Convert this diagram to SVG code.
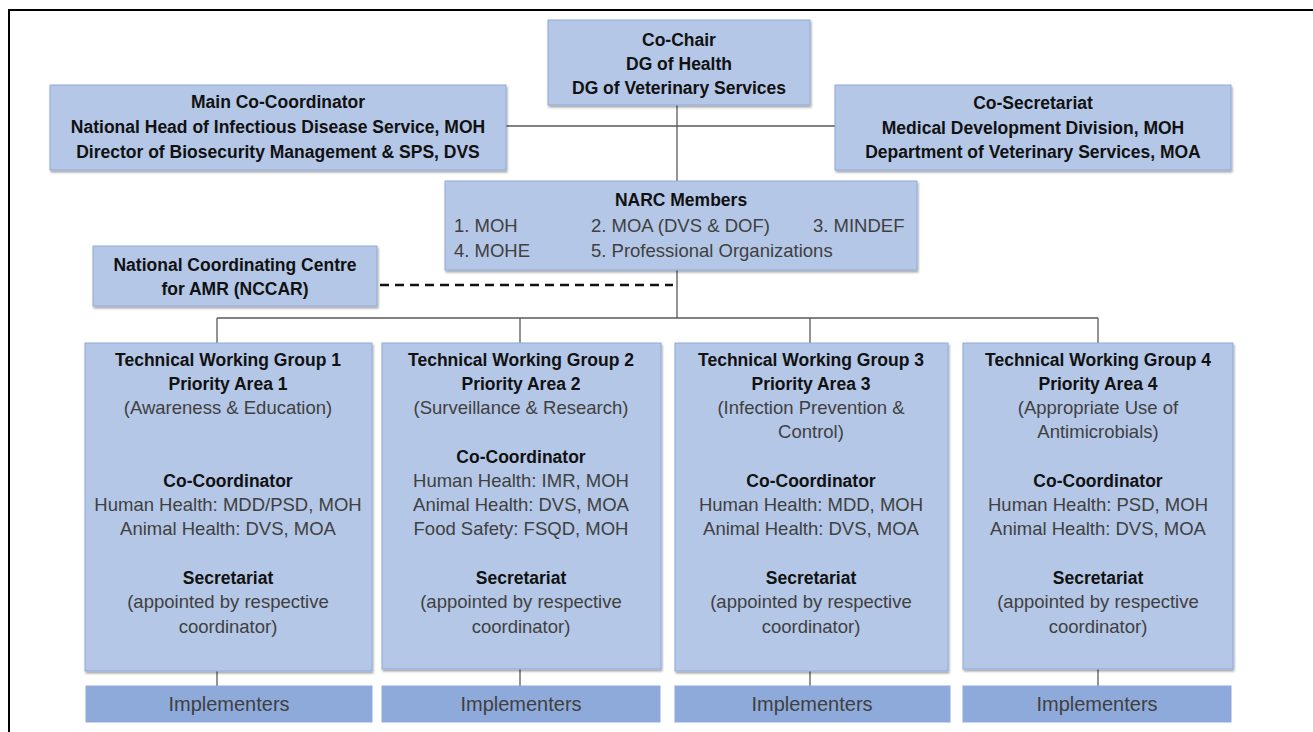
<svg xmlns="http://www.w3.org/2000/svg" width="1313" height="732" viewBox="0 0 1313 732">
<defs>
<filter id="sh" x="-5%" y="-5%" width="110%" height="115%">
<feDropShadow dx="1" dy="2" stdDeviation="1" flood-color="#000" flood-opacity="0.35"/>
</filter>
<style>
.box{fill:#b4c7e7;stroke:#8faadc;stroke-width:1;filter:url(#sh)}
.imp{fill:#8eaadb;stroke:#8faadc;stroke-width:1}
text{font-family:"Liberation Sans",Arial,sans-serif;font-size:18.5px;text-anchor:middle;fill:#404040}
.b{font-weight:bold;fill:#111;font-size:17.5px}
.l{text-anchor:start}
.it{font-size:20px}
.ln{stroke:#595959;stroke-width:1.3;fill:none}
.dash{stroke:#111;stroke-width:2.5;stroke-dasharray:9,6;fill:none}
</style>
</defs>
<rect width="1313" height="732" fill="#fff"/>
<rect x="9" y="10" width="1320" height="740" fill="none" stroke="#000" stroke-width="2"/>

<g id="connectors">
<line class="ln" x1="506" y1="126" x2="835" y2="126"/>
<line class="ln" x1="677" y1="105" x2="677" y2="181"/>
<line class="ln" x1="677" y1="270" x2="677" y2="318"/>
<line class="dash" x1="380" y1="285" x2="673" y2="285"/>
<line class="ln" x1="217" y1="318" x2="1098" y2="318"/>
<line class="ln" x1="217" y1="318" x2="217" y2="343"/>
<line class="ln" x1="520" y1="318" x2="520" y2="343"/>
<line class="ln" x1="810" y1="318" x2="810" y2="343"/>
<line class="ln" x1="1098" y1="318" x2="1098" y2="343"/>
<line class="ln" x1="217" y1="671" x2="217" y2="686"/>
<line class="ln" x1="520" y1="669" x2="520" y2="686"/>
<line class="ln" x1="810" y1="671" x2="810" y2="686"/>
<line class="ln" x1="1098" y1="669" x2="1098" y2="686"/>
</g>

<g id="cochair">
<rect class="box" x="548" y="20" width="262" height="85"/>
<text class="b" x="679" y="46">Co-Chair</text>
<text class="b" x="679" y="70">DG of Health</text>
<text class="b" x="679" y="94">DG of Veterinary Services</text>
</g>

<g id="main-cocoordinator">
<rect class="box" x="50" y="85" width="456" height="85"/>
<text class="b" x="278" y="108">Main Co-Coordinator</text>
<text class="b" x="278" y="133">National Head of Infectious Disease Service, MOH</text>
<text class="b" x="278" y="158">Director of Biosecurity Management &amp; SPS, DVS</text>
</g>

<g id="cosecretariat">
<rect class="box" x="835" y="85" width="396" height="85"/>
<text class="b" x="1033" y="109">Co-Secretariat</text>
<text class="b" x="1033" y="134">Medical Development Division, MOH</text>
<text class="b" x="1033" y="158">Department of Veterinary Services, MOA</text>
</g>

<g id="narc">
<rect class="box" x="445" y="181" width="472" height="89"/>
<text class="b" x="681" y="206">NARC Members</text>
<text class="l" x="454" y="232">1. MOH</text>
<text class="l" x="591" y="232">2. MOA (DVS &amp; DOF)</text>
<text class="l" x="813" y="232">3. MINDEF</text>
<text class="l" x="454" y="257">4. MOHE</text>
<text class="l" x="591" y="257">5. Professional Organizations</text>
</g>

<g id="nccar">
<rect class="box" x="93" y="246" width="284" height="60"/>
<text class="b" x="235" y="271">National Coordinating Centre</text>
<text class="b" x="235" y="295">for AMR (NCCAR)</text>
</g>

<g id="twg1">
<rect class="box" x="85" y="343" width="287" height="328"/>
<text class="b" x="228" y="366">Technical Working Group 1</text>
<text class="b" x="228" y="390">Priority Area 1</text>
<text x="228" y="414">(Awareness &amp; Education)</text>
<text class="b" x="228" y="487">Co-Coordinator</text>
<text x="228" y="511">Human Health: MDD/PSD, MOH</text>
<text x="228" y="535">Animal Health: DVS, MOA</text>
<text class="b" x="228" y="584">Secretariat</text>
<text x="228" y="608">(appointed by respective</text>
<text x="228" y="633">coordinator)</text>
</g>

<g id="twg2">
<rect class="box" x="382" y="343" width="279" height="326"/>
<text class="b" x="521" y="366">Technical Working Group 2</text>
<text class="b" x="521" y="390">Priority Area 2</text>
<text x="521" y="414">(Surveillance &amp; Research)</text>
<text class="b" x="521" y="463">Co-Coordinator</text>
<text x="521" y="487">Human Health: IMR, MOH</text>
<text x="521" y="511">Animal Health: DVS, MOA</text>
<text x="521" y="535">Food Safety: FSQD, MOH</text>
<text class="b" x="521" y="584">Secretariat</text>
<text x="521" y="608">(appointed by respective</text>
<text x="521" y="633">coordinator)</text>
</g>

<g id="twg3">
<rect class="box" x="675" y="343" width="273" height="328"/>
<text class="b" x="811" y="366">Technical Working Group 3</text>
<text class="b" x="811" y="390">Priority Area 3</text>
<text x="811" y="414">(Infection Prevention &amp;</text>
<text x="811" y="438">Control)</text>
<text class="b" x="811" y="487">Co-Coordinator</text>
<text x="811" y="511">Human Health: MDD, MOH</text>
<text x="811" y="535">Animal Health: DVS, MOA</text>
<text class="b" x="811" y="584">Secretariat</text>
<text x="811" y="608">(appointed by respective</text>
<text x="811" y="633">coordinator)</text>
</g>

<g id="twg4">
<rect class="box" x="963" y="343" width="270" height="326"/>
<text class="b" x="1098" y="366">Technical Working Group 4</text>
<text class="b" x="1098" y="390">Priority Area 4</text>
<text x="1098" y="414">(Appropriate Use of</text>
<text x="1098" y="438">Antimicrobials)</text>
<text class="b" x="1098" y="487">Co-Coordinator</text>
<text x="1098" y="511">Human Health: PSD, MOH</text>
<text x="1098" y="535">Animal Health: DVS, MOA</text>
<text class="b" x="1098" y="584">Secretariat</text>
<text x="1098" y="608">(appointed by respective</text>
<text x="1098" y="633">coordinator)</text>
</g>

<g id="impl1"><rect class="imp" x="86" y="686" width="286" height="36"/><text class="it" x="229" y="711">Implementers</text></g>
<g id="impl2"><rect class="imp" x="382" y="686" width="278" height="36"/><text class="it" x="521" y="711">Implementers</text></g>
<g id="impl3"><rect class="imp" x="675" y="686" width="275" height="36"/><text class="it" x="812" y="711">Implementers</text></g>
<g id="impl4"><rect class="imp" x="963" y="686" width="268" height="36"/><text class="it" x="1097" y="711">Implementers</text></g>
</svg>
